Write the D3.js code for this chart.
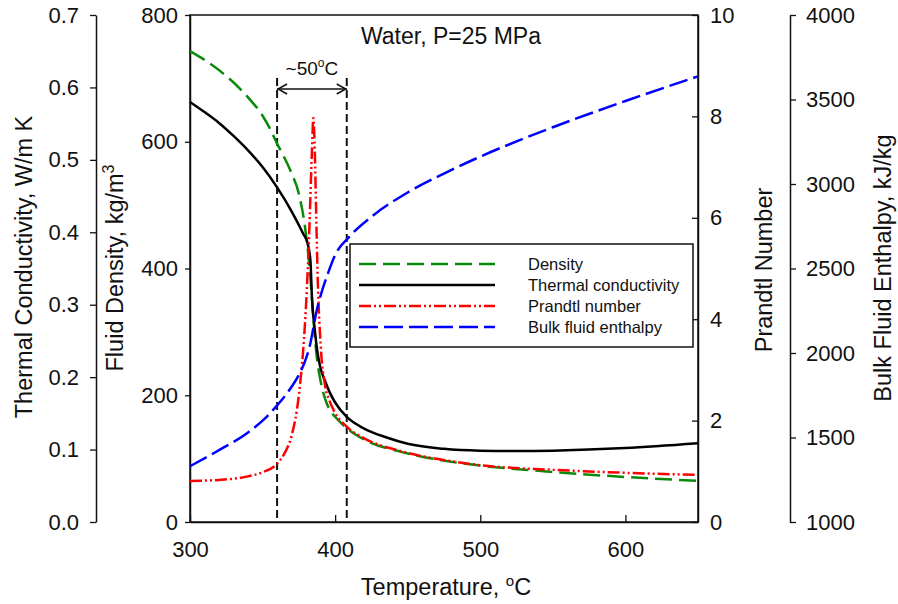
<!DOCTYPE html>
<html>
<head>
<meta charset="UTF-8">
<script src="https://d3js.org/d3.v7.min.js"></script>
<style>
  body { margin: 0; background: #fff; }
  svg { font-family: 'Liberation Sans', Arial, sans-serif; }
  .tick text { font-size: 22px; fill: #111; }
  .title { font-size: 23.5px; fill: #111; }
</style>
</head>
<body>
<svg id="chart" width="898" height="604"></svg>
<script>
  // temperature grid (°C) for each series
  const densT   = [300, 320, 340, 350, 355, 360, 365, 370, 375, 380, 383, 385, 387, 390, 393, 396, 400, 408, 420, 445, 480, 500, 550, 600, 650];
  const density = [743, 713, 670, 641, 621, 597, 575, 550, 518, 452, 385, 322, 268, 222, 195, 178, 166, 148, 130, 111, 95, 89, 79, 71, 65];

  const condT   = [300, 310, 320, 330, 340, 350, 360, 370, 378, 381, 383, 384, 386, 388, 390, 393, 396, 400, 408, 420, 435, 450, 475, 500, 525, 550, 600, 650];
  const conduct = [0.580, 0.566, 0.551, 0.533, 0.513, 0.490, 0.462, 0.429, 0.398, 0.385, 0.36, 0.31, 0.265, 0.232, 0.212, 0.195, 0.180, 0.165, 0.145, 0.129, 0.117, 0.108, 0.101, 0.0985, 0.098, 0.0985, 0.102, 0.1086];

  const prT     = [300, 320, 340, 350, 360, 365, 370, 375, 378, 380, 382, 384, 385, 386, 387, 388, 390, 393, 396, 400, 408, 420, 445, 480, 500, 550, 600, 650];
  const prandtl = [0.81, 0.83, 0.9, 0.98, 1.15, 1.35, 1.7, 2.5, 3.4, 4.3, 5.6, 7.3, 7.97, 7.3, 6.0, 4.8, 3.5, 2.7, 2.4, 2.15, 1.88, 1.65, 1.4, 1.2, 1.12, 1.03, 0.97, 0.93];

  const enthT    = [300, 320, 340, 350, 360, 370, 375, 380, 383, 385, 387, 390, 395, 400, 410, 425, 450, 475, 500, 550, 600, 650];
  const enthalpy = [1330, 1425, 1530, 1600, 1690, 1800, 1870, 1970, 2060, 2150, 2240, 2340, 2470, 2580, 2690, 2806, 2950, 3062, 3162, 3336, 3491, 3637];

  const xTicks = [300, 400, 500, 600];
  const densTicks = [0, 200, 400, 600, 800];
  const condTicks = [0, 0.1, 0.2, 0.3, 0.4, 0.5, 0.6, 0.7];
  const prTicks = [0, 2, 4, 6, 8, 10];
  const enthTicks = [1000, 1500, 2000, 2500, 3000, 3500, 4000];
  const bandT = [360, 408];

  const pLeft = 190, pRight = 698, pTop = 15, pBottom = 522;
  const svg = d3.select('#chart');

  const x = d3.scaleLinear().domain([300, 650]).range([pLeft, pRight]);
  const yDens = d3.scaleLinear().domain([0, 800]).range([pBottom, pTop]);
  const yCond = d3.scaleLinear().domain([0, 0.7]).range([pBottom, pTop]);
  const yPr = d3.scaleLinear().domain([0, 10]).range([pBottom, pTop]);
  const yEnth = d3.scaleLinear().domain([1000, 4000]).range([pBottom, pTop]);

  function styleAxis(g) {
    g.selectAll('path.domain').attr('stroke', '#111').attr('stroke-width', 1.5);
    g.selectAll('.tick line').attr('stroke', '#111').attr('stroke-width', 1.3);
    g.attr('font-family', null).attr('font-size', null);
  }

  // plot frame
  svg.append('rect').attr('x', pLeft).attr('y', pTop)
    .attr('width', pRight - pLeft).attr('height', pBottom - pTop)
    .attr('fill', 'none').attr('stroke', '#111').attr('stroke-width', 1.5);

  // x axis (ticks inward)
  svg.append('g').attr('transform', `translate(0,${pBottom})`)
    .call(d3.axisBottom(x).tickValues(xTicks).tickSizeInner(-7).tickSizeOuter(0).tickPadding(19).tickFormat(d3.format('d')))
    .call(styleAxis);

  // density axis (left, outward)
  svg.append('g').attr('transform', `translate(${pLeft},0)`)
    .call(d3.axisLeft(yDens).tickValues(densTicks).tickSizeInner(5).tickSizeOuter(0).tickPadding(7).tickFormat(d3.format('d')))
    .call(styleAxis);

  // conductivity axis (offset far left)
  svg.append('g').attr('transform', `translate(96,0)`)
    .call(d3.axisLeft(yCond).tickValues(condTicks).tickSizeInner(6).tickSizeOuter(0).tickPadding(11).tickFormat(d3.format('.1f')))
    .call(styleAxis);

  // prandtl axis (right, inward ticks)
  svg.append('g').attr('transform', `translate(${pRight},0)`)
    .call(d3.axisRight(yPr).tickValues(prTicks).tickSizeInner(-6).tickSizeOuter(0).tickPadding(12).tickFormat(d3.format('d')))
    .call(styleAxis);

  // enthalpy axis (offset right)
  svg.append('g').attr('transform', `translate(790,0)`)
    .call(d3.axisRight(yEnth).tickValues(enthTicks).tickSizeInner(6).tickSizeOuter(0).tickPadding(10).tickFormat(d3.format('d')))
    .call(styleAxis);

  // axis titles
  svg.append('text').attr('class', 'title').attr('text-anchor', 'middle')
    .attr('transform', 'translate(32,267) rotate(-90)').text('Thermal Conductivity, W/m K');
  const dt = svg.append('text').attr('class', 'title').attr('text-anchor', 'middle')
    .attr('transform', 'translate(123,268) rotate(-90)');
  dt.append('tspan').text('Fluid Density, kg/m');
  dt.append('tspan').attr('dy', -9).attr('font-size', 16).text('3');
  svg.append('text').attr('class', 'title').attr('text-anchor', 'middle')
    .attr('transform', 'translate(772,270) rotate(-90)').text('Prandtl Number');
  svg.append('text').attr('class', 'title').attr('text-anchor', 'middle')
    .attr('transform', 'translate(891,268) rotate(-90)').text('Bulk Fluid Enthalpy, kJ/kg');

  const xt = svg.append('text').attr('class', 'title').attr('text-anchor', 'middle')
    .attr('x', 446).attr('y', 595);
  xt.append('tspan').text('Temperature, ');
  xt.append('tspan').attr('dy', -9).attr('font-size', 15).text('o');
  xt.append('tspan').attr('dy', 9).text('C');

  svg.append('text').attr('x', 451).attr('y', 44).attr('text-anchor', 'middle')
    .attr('font-size', 23).attr('fill', '#111').text('Water, P=25 MPa');

  // transition band
  const bandTop = 78;
  bandT.forEach(t => {
    svg.append('line').attr('x1', x(t)).attr('x2', x(t))
      .attr('y1', bandTop).attr('y2', pBottom)
      .attr('stroke', '#111').attr('stroke-width', 2).attr('stroke-dasharray', '8,4');
  });
  const ay = 89, x0 = x(bandT[0]), x1 = x(bandT[1]);
  svg.append('line').attr('x1', x0).attr('x2', x1).attr('y1', ay).attr('y2', ay)
    .attr('stroke', '#111').attr('stroke-width', 1.5);
  svg.append('path').attr('d', `M${x0 + 10},${ay - 5}L${x0 + 1},${ay}L${x0 + 10},${ay + 5}`)
    .attr('fill', 'none').attr('stroke', '#111').attr('stroke-width', 1.5);
  svg.append('path').attr('d', `M${x1 - 10},${ay - 5}L${x1 - 1},${ay}L${x1 - 10},${ay + 5}`)
    .attr('fill', 'none').attr('stroke', '#111').attr('stroke-width', 1.5);
  const lt = svg.append('text').attr('x', (x0 + x1) / 2).attr('y', 75)
    .attr('text-anchor', 'middle').attr('font-size', 19).attr('fill', '#111');
  lt.append('tspan').text('~50');
  lt.append('tspan').attr('dy', -8).attr('font-size', 12).text('o');
  lt.append('tspan').attr('dy', 8).text('C');

  // series
  const series = [
    {name: 'Density', T: densT, v: density, y: yDens, color: '#0a8a0a', dash: '17,7'},
    {name: 'Thermal conductivity', T: condT, v: conduct, y: yCond, color: '#000', dash: null},
    {name: 'Prandtl number', T: prT, v: prandtl, y: yPr, color: '#ff0000', dash: '12,3,2,3,2,3'},
    {name: 'Bulk fluid enthalpy', T: enthT, v: enthalpy, y: yEnth, color: '#0000ff', dash: '19,6'}
  ];

  const plot = svg.append('g');
  series.forEach(s => {
    const line = d3.line().curve(d3.curveMonotoneX)
      .x((d, i) => x(s.T[i])).y(d => s.y(d));
    plot.append('path').datum(s.v).attr('d', line)
      .attr('fill', 'none').attr('stroke', s.color).attr('stroke-width', 2.5)
      .attr('stroke-dasharray', s.dash);
  });

  // legend
  const lg = svg.append('g');
  lg.append('rect').attr('x', 350).attr('y', 244).attr('width', 343).attr('height', 103)
    .attr('fill', '#fff').attr('stroke', '#111').attr('stroke-width', 1.5);
  series.forEach((s, i) => {
    const yy = 264 + i * 21;
    lg.append('line').attr('x1', 359).attr('x2', 495).attr('y1', yy).attr('y2', yy)
      .attr('stroke', s.color).attr('stroke-width', 2.5).attr('stroke-dasharray', s.dash);
    lg.append('text').attr('x', 528).attr('y', yy + 6).attr('font-size', 16.5).attr('fill', '#111').text(s.name);
  });
</script>
</body>
</html>
